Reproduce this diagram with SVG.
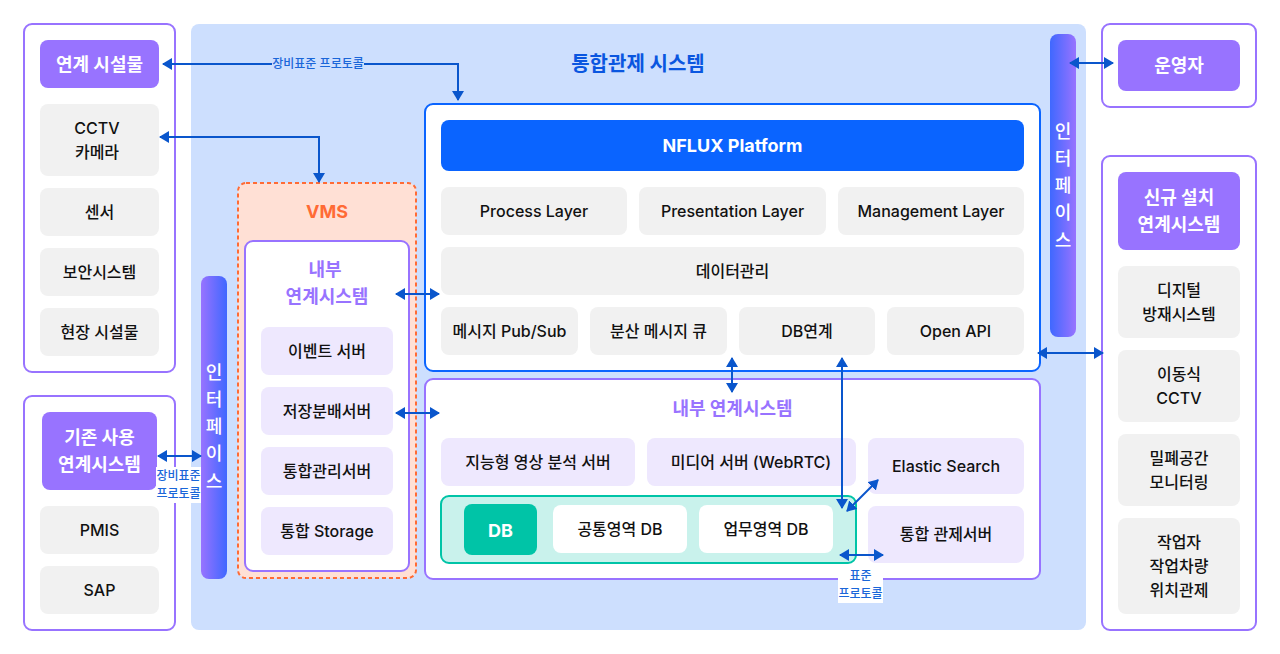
<svg xmlns="http://www.w3.org/2000/svg" width="1280" height="654" viewBox="0 0 1280 654">
<style>
text{font-family:Inter,"Noto Sans CJK KR","Noto Sans",sans-serif;text-anchor:middle;dominant-baseline:central;fill:#111;font-size:16px;font-weight:500}
.frame{fill:#fff;stroke:#9873ff;stroke-width:2}
.head{fill:#9873ff}
.head-t{fill:#fff;font-size:18px;font-weight:700}
.g{fill:#f1f1f1}
.p{fill:#eee8fe}
.pt{fill:#9873ff;font-size:18px;font-weight:700}
.lab{fill:#1a66d9;font-size:12px;font-weight:500}
.wire{fill:none;stroke:#0a56cc;stroke-width:2}
.vert{fill:#fff;font-size:18px;font-weight:500}
</style>
<defs>
<marker id="ah" viewBox="0 0 10 12" refX="9" refY="6" markerWidth="10" markerHeight="12" markerUnits="userSpaceOnUse" orient="auto-start-reverse"><path d="M0 0L10 6L0 12Z" fill="#0a56cc"/></marker>
<linearGradient id="gl" x1="0" x2="1" y1="0" y2="0"><stop offset="0" stop-color="#9873ff"/><stop offset="1" stop-color="#3f68ff"/></linearGradient>
<linearGradient id="gr" x1="0" x2="1" y1="0" y2="0"><stop offset="0" stop-color="#3f68ff"/><stop offset="1" stop-color="#9873ff"/></linearGradient>
</defs>
<rect width="1280" height="654" fill="#fff"/>
<g id="main-system"><rect x="191" y="24" width="895" height="606" rx="8" fill="#cddffe"/><text x="638" y="64" style="fill:#0a56e0;font-size:20px;font-weight:700">통합관제 시스템</text></g>
<g id="facilities">
<rect class="frame" x="24" y="24" width="151" height="348" rx="8"/>
<rect class="head" x="40" y="40" width="119" height="48" rx="8"/><text class="head-t" x="99.500" y="64">연계 시설물</text>
<rect class="g" x="40" y="104" width="119" height="72" rx="8"/><text x="97" y="128">CCTV</text><text x="97" y="152">카메라</text>
<rect class="g" x="40" y="188" width="119" height="48" rx="8"/><text x="99.500" y="212">센서</text>
<rect class="g" x="40" y="248" width="119" height="48" rx="8"/><text x="99.500" y="272">보안시스템</text>
<rect class="g" x="40" y="308" width="119" height="48" rx="8"/><text x="99.500" y="332">현장 시설물</text>
</g>
<g id="existing">
<rect class="frame" x="24" y="396" width="151" height="234" rx="8"/>
<rect class="head" x="42" y="412" width="115" height="78" rx="8"/><text class="head-t" x="99.500" y="437">기존 사용</text><text class="head-t" x="99.500" y="464">연계시스템</text>
<rect class="g" x="40" y="506" width="119" height="48" rx="8"/><text x="99.500" y="530">PMIS</text>
<rect class="g" x="40" y="566" width="119" height="48" rx="8"/><text x="99.500" y="590">SAP</text>
</g>
<g id="interface-left"><rect x="201" y="276" width="26" height="303" rx="8" fill="url(#gl)"/>
<text class="vert" x="214" y="372">인</text><text class="vert" x="214" y="399">터</text><text class="vert" x="214" y="426">페</text><text class="vert" x="214" y="453">이</text><text class="vert" x="214" y="481">스</text></g>
<g id="vms">
<rect x="238" y="183" width="178" height="395" rx="8" fill="#ffe0d5" stroke="#ff6b35" stroke-width="2" stroke-dasharray="4 3"/>
<text x="327" y="211.500" style="fill:#ff6b35;font-size:18px;font-weight:700">VMS</text>
<rect class="frame" x="245" y="241" width="164" height="330" rx="8"/>
<text class="pt" x="325" y="269.500">내부</text><text class="pt" x="327" y="296.500">연계시스템</text>
<rect class="p" x="261" y="327" width="132" height="48" rx="8"/><text x="327" y="351">이벤트 서버</text>
<rect class="p" x="261" y="387" width="132" height="48" rx="8"/><text x="327" y="411">저장분배서버</text>
<rect class="p" x="261" y="447" width="132" height="48" rx="8"/><text x="327" y="471">통합관리서버</text>
<rect class="p" x="261" y="507" width="132" height="48" rx="8"/><text x="327" y="531">통합 Storage</text>
</g>
<g id="nflux">
<rect x="425" y="104" width="615" height="267" rx="8" fill="#fff" stroke="#0a64ff" stroke-width="2"/>
<rect x="441" y="120" width="583" height="51" rx="8" fill="#0a64ff"/><text x="732.500" y="145.500" style="fill:#fff;font-size:18px;font-weight:700">NFLUX Platform</text>
<rect class="g" x="441" y="187" width="186" height="48" rx="8"/><text x="534" y="211">Process Layer</text>
<rect class="g" x="639" y="187" width="187" height="48" rx="8"/><text x="732.500" y="211">Presentation Layer</text>
<rect class="g" x="838" y="187" width="186" height="48" rx="8"/><text x="931" y="211">Management Layer</text>
<rect class="g" x="441" y="247" width="583" height="48" rx="8"/><text x="732.500" y="271">데이터관리</text>
<rect class="g" x="441" y="307" width="137" height="48" rx="8"/><text x="509.500" y="331">메시지 Pub/Sub</text>
<rect class="g" x="590" y="307" width="137" height="48" rx="8"/><text x="658.500" y="331">분산 메시지 큐</text>
<rect class="g" x="739" y="307" width="136" height="48" rx="8"/><text x="807" y="331">DB연계</text>
<rect class="g" x="887" y="307" width="137" height="48" rx="8"/><text x="955.500" y="331">Open API</text>
</g>
<g id="internal">
<rect class="frame" x="425" y="379" width="615" height="200" rx="8"/>
<text class="pt" x="732.500" y="408">내부 연계시스템</text>
<rect class="p" x="441" y="438" width="194" height="48" rx="8"/><text x="538" y="462">지능형 영상 분석 서버</text>
<rect class="p" x="647" y="438" width="209" height="48" rx="8"/><text x="751" y="462">미디어 서버 (WebRTC)</text>
<rect class="p" x="868" y="438" width="156" height="56" rx="8"/><text x="946" y="466">Elastic Search</text>
<rect class="p" x="868" y="506" width="156" height="57" rx="8"/><text x="946" y="534">통합 관제서버</text>
<rect x="441" y="496" width="415" height="67" rx="8" fill="#c9f2ec" stroke="#00c4a7" stroke-width="2"/>
<rect x="464" y="504" width="73" height="51" rx="8" fill="#00c4a7"/><text x="500.500" y="530" style="fill:#fff;font-size:18px;font-weight:700">DB</text>
<rect x="553" y="505" width="134" height="48" rx="8" fill="#fff"/><text x="620" y="529">공통영역 DB</text>
<rect x="699" y="505" width="134" height="48" rx="8" fill="#fff"/><text x="766" y="529">업무영역 DB</text>
</g>
<g id="interface-right"><rect x="1050" y="34" width="26" height="303" rx="8" fill="url(#gr)"/>
<text class="vert" x="1063" y="131">인</text><text class="vert" x="1063" y="158">터</text><text class="vert" x="1063" y="185">페</text><text class="vert" x="1063" y="212">이</text><text class="vert" x="1063" y="240">스</text></g>
<g id="operator"><rect class="frame" x="1102" y="24" width="154" height="83" rx="8"/><rect class="head" x="1118" y="40" width="122" height="51" rx="8"/><text class="head-t" x="1179" y="65">운영자</text></g>
<g id="new-systems">
<rect class="frame" x="1102" y="156" width="154" height="474" rx="8"/>
<rect class="head" x="1118" y="172" width="122" height="78" rx="8"/><text class="head-t" x="1179" y="197">신규 설치</text><text class="head-t" x="1179" y="224">연계시스템</text>
<rect class="g" x="1118" y="266" width="122" height="72" rx="8"/><text x="1179" y="290">디지털</text><text x="1179" y="314">방재시스템</text>
<rect class="g" x="1118" y="350" width="122" height="72" rx="8"/><text x="1179" y="374">이동식</text><text x="1179" y="398">CCTV</text>
<rect class="g" x="1118" y="434" width="122" height="72" rx="8"/><text x="1179" y="458">밀폐공간</text><text x="1179" y="482">모니터링</text>
<rect class="g" x="1118" y="518" width="122" height="96" rx="8"/><text x="1179" y="542">작업자</text><text x="1179" y="566">작업차량</text><text x="1179" y="590">위치관제</text>
</g>
<g id="connectors">
<path class="wire" d="M163 64H458V100" marker-start="url(#ah)" marker-end="url(#ah)"/>
<path class="wire" d="M160 137H319V182" marker-start="url(#ah)" marker-end="url(#ah)"/>
<path class="wire" d="M396 294H439" marker-start="url(#ah)" marker-end="url(#ah)"/>
<path class="wire" d="M396 413H439" marker-start="url(#ah)" marker-end="url(#ah)"/>
<path class="wire" d="M158 456H201" marker-start="url(#ah)" marker-end="url(#ah)"/>
<path class="wire" d="M732 358V392" marker-start="url(#ah)" marker-end="url(#ah)"/>
<path class="wire" d="M842 358V508" marker-start="url(#ah)" marker-end="url(#ah)"/>
<path class="wire" d="M878 480L847 511" marker-start="url(#ah)" marker-end="url(#ah)"/>
<path class="wire" d="M840 555H883" marker-start="url(#ah)" marker-end="url(#ah)"/>
<path class="wire" d="M1038 353H1103" marker-start="url(#ah)" marker-end="url(#ah)"/>
<path class="wire" d="M1070 63H1113" marker-start="url(#ah)" marker-end="url(#ah)"/>
<rect x="272" y="56" width="92" height="15" fill="#cddffe"/><text class="lab" x="318" y="63">장비표준 프로토콜</text>
<rect x="156" y="467" width="45" height="36" fill="#fff"/><text class="lab" x="178.500" y="475">장비표준</text><text class="lab" x="178.500" y="493">프로토콜</text>
<rect x="838" y="566" width="45" height="37" fill="#fff"/><text class="lab" x="860.500" y="575">표준</text><text class="lab" x="860.500" y="593">프로토콜</text>
</g>
</svg>
